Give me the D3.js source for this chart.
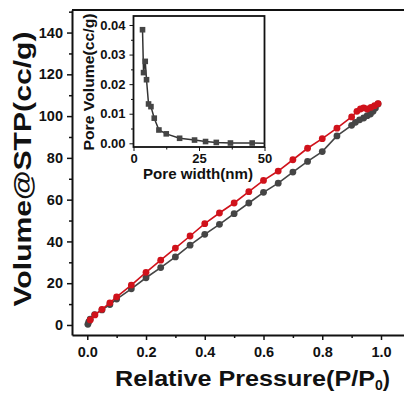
<!DOCTYPE html>
<html>
<head>
<meta charset="UTF-8">
<script src="https://d3js.org/d3.v7.min.js"></script>
<style>
  body { margin: 0; background: #fff; }
  svg { display: block; font-family: "Liberation Sans", Arial, sans-serif; font-weight: bold; }
  .axis path, .axis line { stroke: #111; }
  .axis text { fill: #111; font-weight: bold; }
</style>
</head>
<body>
<svg width="404" height="394"></svg>
<script>
// isotherm: adsorption (grey) and desorption (red)
const adsP = [0.002, 0.005, 0.01, 0.025, 0.05, 0.077, 0.1, 0.15, 0.2, 0.25, 0.3, 0.35, 0.4, 0.45, 0.5, 0.55, 0.6, 0.65, 0.7, 0.75, 0.8, 0.85, 0.9, 0.913, 0.927, 0.941, 0.953, 0.964, 0.973, 0.981, 0.99];
const adsV = [0.3, 1.5, 2.8, 5.0, 7.2, 9.8, 12.4, 17.3, 22.6, 27.5, 32.6, 38.2, 43.4, 48.2, 53.3, 58.4, 63.5, 67.9, 73.2, 78.3, 83.0, 90.5, 95.6, 97.0, 98.2, 99.1, 100.2, 101.0, 102.3, 103.9, 105.8];
const desP = [0.01, 0.026, 0.05, 0.077, 0.1, 0.15, 0.2, 0.25, 0.3, 0.35, 0.4, 0.45, 0.5, 0.55, 0.6, 0.65, 0.7, 0.75, 0.8, 0.85, 0.9, 0.918, 0.93, 0.941, 0.953, 0.966, 0.978, 0.99];
const desV = [2.4, 4.8, 7.5, 10.6, 13.5, 19.1, 25.2, 31.0, 36.8, 42.6, 48.5, 53.6, 58.4, 63.8, 69.2, 73.7, 79.1, 84.6, 89.2, 94.2, 99.6, 102.3, 103.4, 103.9, 103.4, 104.2, 105.0, 106.0];

// inset: pore size distribution
const poreW = [3.44, 3.83, 4.48, 4.97, 5.74, 6.66, 7.92, 9.7, 12.5, 17.6, 23.3, 27.5, 31.6, 37, 45.3, 52];
const poreV = [0.0384, 0.0239, 0.0277, 0.0215, 0.0133, 0.0124, 0.0085, 0.0045, 0.0032, 0.0017, 0.0011, 0.0006, 0.0003, 0.0001, 0.0001, 0.0];

const xTicks = [0, 0.2, 0.4, 0.6, 0.8, 1.0];
const yTicks = [0, 20, 40, 60, 80, 100, 120, 140];
const inXTicks = [0, 25, 50];
const inYTicks = [0, 0.01, 0.02, 0.03, 0.04];

const svg = d3.select("svg");
const ink = "#111";
const red = "#d0121b", grey = "#454545";

// === main plot ===
const x = d3.scaleLinear().domain([-0.052, 1.08]).range([72, 404.5]);
const y = d3.scaleLinear().domain([-4.8, 150.8]).range([335, 10]);

svg.append("g").attr("class", "axis").attr("transform", "translate(0,335)")
  .call(d3.axisBottom(x).tickValues(xTicks.map(d => d + 0.1).filter(d => d < 1.05)).tickSize(3).tickFormat("").tickSizeOuter(0))
  .call(g => g.select(".domain").remove())
  .selectAll("line").attr("stroke-width", 1.5);
svg.append("g").attr("class", "axis").attr("transform", "translate(72,0)")
  .call(d3.axisLeft(y).tickValues(yTicks.map(d => d + 10)).tickSize(3).tickFormat("").tickSizeOuter(0))
  .call(g => g.select(".domain").remove())
  .selectAll("line").attr("stroke-width", 1.5);

const gx = svg.append("g").attr("class", "axis").attr("transform", "translate(0,335)")
  .call(d3.axisBottom(x).tickValues(xTicks).tickFormat(d3.format(".1f")).tickSize(5).tickPadding(7).tickSizeOuter(0));
gx.select(".domain").attr("stroke-width", 2);
gx.selectAll("line").attr("stroke-width", 1.5);
gx.selectAll("text").attr("font-size", 14.5);

const gy = svg.append("g").attr("class", "axis").attr("transform", "translate(72,0)")
  .call(d3.axisLeft(y).tickValues(yTicks).tickSize(5).tickPadding(4).tickSizeOuter(0));
gy.select(".domain").attr("stroke-width", 2);
gy.selectAll("line").attr("stroke-width", 1.5);
gy.selectAll("text").attr("font-size", 14.5);

// top frame line
svg.append("line").attr("x1", 72).attr("x2", 404).attr("y1", 10).attr("y2", 10)
  .attr("stroke", ink).attr("stroke-width", 2);

const line = d3.line().x(d => x(d[0])).y(d => y(d[1]));
function series(px, py, color) {
  const pts = px.map((p, i) => [p, py[i]]);
  svg.append("path").datum(pts).attr("d", line).attr("fill", "none")
    .attr("stroke", color).attr("stroke-width", 1.6);
  svg.append("g").selectAll("circle").data(pts).join("circle")
    .attr("cx", d => x(d[0])).attr("cy", d => y(d[1])).attr("r", 3.4).attr("fill", color);
}
series(adsP, adsV, grey);
series(desP, desV, red);

// axis titles
svg.append("text").attr("transform", "translate(31,169) rotate(-90)")
  .attr("text-anchor", "middle").attr("font-size", 23).attr("fill", ink)
  .attr("textLength", 275).attr("lengthAdjust", "spacingAndGlyphs")
  .text("Volume@STP(cc/g)");

const xt = svg.append("text").attr("x", 115).attr("y", 386).attr("font-size", 21.5).attr("fill", ink);
xt.append("tspan").attr("textLength", 260).attr("lengthAdjust", "spacingAndGlyphs")
  .text("Relative Pressure(P/P");
xt.append("tspan").attr("font-size", 14).attr("dy", 4).text("0");
xt.append("tspan").attr("dy", -4).text(")");

// === inset ===
const ix = d3.scaleLinear().domain([0, 50]).range([133.5, 264.5]);
const iy = d3.scaleLinear().domain([-0.00125, 0.04304]).range([147, 16]);

svg.append("rect").attr("x", 133.5).attr("y", 16).attr("width", 131).attr("height", 131)
  .attr("fill", "#fff").attr("stroke", ink).attr("stroke-width", 1.8);

svg.append("g").attr("class", "axis").attr("transform", "translate(0,147)")
  .call(d3.axisBottom(ix).tickValues([12.5, 37.5]).tickSize(2.5).tickFormat("").tickSizeOuter(0))
  .call(g => g.select(".domain").remove());
svg.append("g").attr("class", "axis").attr("transform", "translate(133.5,0)")
  .call(d3.axisLeft(iy).tickValues([0.005, 0.015, 0.025, 0.035]).tickSize(2.5).tickFormat("").tickSizeOuter(0))
  .call(g => g.select(".domain").remove());

const igx = svg.append("g").attr("class", "axis").attr("transform", "translate(0,147)")
  .call(d3.axisBottom(ix).tickValues(inXTicks).tickSize(4).tickPadding(3).tickSizeOuter(0));
igx.select(".domain").remove();
igx.selectAll("text").attr("font-size", 13);
const igy = svg.append("g").attr("class", "axis").attr("transform", "translate(133.5,0)")
  .call(d3.axisLeft(iy).tickValues(inYTicks).tickFormat(d3.format(".2f")).tickSize(4).tickPadding(4).tickSizeOuter(0));
igy.select(".domain").remove();
igy.selectAll("text").attr("font-size", 13);

svg.append("clipPath").attr("id", "inclip").append("rect")
  .attr("x", 133.5).attr("y", 16).attr("width", 131).attr("height", 131);
const ig = svg.append("g").attr("clip-path", "url(#inclip)");
const ipts = poreW.map((w, i) => [w, poreV[i]]);
ig.append("path").datum(ipts)
  .attr("d", d3.line().x(d => ix(d[0])).y(d => iy(d[1])))
  .attr("fill", "none").attr("stroke", "#333").attr("stroke-width", 1.5);
ig.selectAll("rect").data(ipts).join("rect")
  .attr("x", d => ix(d[0]) - 2.8).attr("y", d => iy(d[1]) - 2.8)
  .attr("width", 5.6).attr("height", 5.6).attr("fill", grey);

svg.append("text").attr("x", 198).attr("y", 179).attr("text-anchor", "middle")
  .attr("font-size", 14).attr("fill", ink)
  .attr("textLength", 110).attr("lengthAdjust", "spacingAndGlyphs")
  .text("Pore width(nm)");
svg.append("text").attr("transform", "translate(94,82) rotate(-90)")
  .attr("text-anchor", "middle").attr("font-size", 14.5).attr("fill", ink)
  .attr("textLength", 137).attr("lengthAdjust", "spacingAndGlyphs")
  .text("Pore Volume(cc/g)");
</script>
</body>
</html>
